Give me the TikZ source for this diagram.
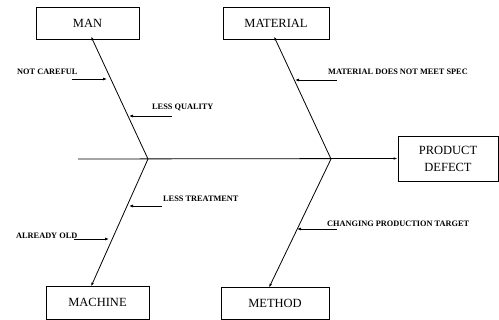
\documentclass[tikz,border=0pt]{standalone}
\usepackage{fontspec}
\setmainfont{Liberation Serif}
\usetikzlibrary{arrows.meta}
\begin{document}
\begin{tikzpicture}[x=1pt,y=-1pt,
  catbox/.style={draw,line width=0.8pt,minimum width=103pt,minimum height=32pt,inner sep=0pt,font=\fontsize{12.5}{14}\selectfont},
  cause/.style={inner sep=0pt,font=\bfseries\fontsize{8.3}{9}\selectfont},
  bone/.style={line width=0.8pt,-{Latex[length=4pt,width=2.6pt]}},
  twig/.style={line width=0.8pt,-{Latex[length=4pt,width=3pt]}}]
\useasboundingbox (0,0) rectangle (499,320);
% boxes
\node[catbox] (man) at (87.5,23) {MAN};
\node[catbox,minimum width=106pt] (mat) at (276,23) {MATERIAL};
\node[catbox,minimum height=33pt] (mach) at (97.5,302.5) {MACHINE};
\node[catbox,minimum width=108pt] (meth) at (275,303) {METHOD};
\node[catbox,minimum width=100pt,minimum height=45pt,align=center,font=\fontsize{12.5}{17}\selectfont] (prod) at (448,158.5) {PRODUCT\\DEFECT};
% spine
\coordinate (s) at (78,159);
\coordinate (j1) at (148,159);
\coordinate (j2) at (331,159);
\draw[bone] (s) -- (prod.west);
% bones
\draw[bone] (j1) -- ([xshift=3.5pt,yshift=3pt]man.south);
\draw[bone] (j2) -- ([xshift=-2pt,yshift=3pt]mat.south);
\draw[bone] (j1) -- ([xshift=-6.5pt,yshift=-1pt]mach.north);
\draw[bone] (j2) -- ([xshift=-6pt,yshift=-1pt]meth.north);
% causes
\node[cause,anchor=west] (nc) at (17,72) {NOT CAREFUL};
\coordinate (nct) at (72,79); \coordinate (nch) at (107,79);
\draw[twig] (nct) -- (nch);
\node[cause,anchor=west] (lq) at (152,107.5) {LESS QUALITY};
\coordinate (lqt) at (172,116); \coordinate (lqh) at (129,116);
\draw[twig] (lqt) -- (lqh);
\node[cause,anchor=west] (md) at (328,71.5) {MATERIAL DOES NOT MEET SPEC};
\coordinate (mdt) at (337,80); \coordinate (mdh) at (295,80);
\draw[twig] (mdt) -- (mdh);
\node[cause,anchor=west] (lt) at (163,199) {LESS TREATMENT};
\coordinate (ltt) at (162,206); \coordinate (lth) at (129,206);
\draw[twig] (ltt) -- (lth);
\node[cause,anchor=west] (ao) at (16,236) {ALREADY OLD};
\coordinate (aot) at (74,239); \coordinate (aoh) at (109,239);
\draw[twig] (aot) -- (aoh);
\node[cause,anchor=west] (cp) at (327,224) {CHANGING PRODUCTION TARGET};
\coordinate (cpt) at (337,229); \coordinate (cph) at (297,229);
\draw[twig] (cpt) -- (cph);
\end{tikzpicture}
\end{document}
